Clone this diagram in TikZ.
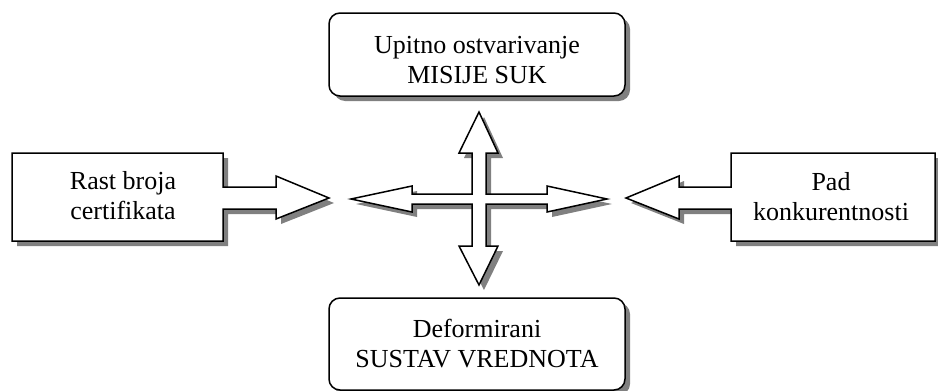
\documentclass[tikz,border=0pt]{standalone}
\usepackage{fontspec}
\setmainfont{Liberation Serif}
\usetikzlibrary{positioning,shadows}

\tikzset{
  shade/.style={general shadow={fill=black!50, shadow xshift=5pt, shadow yshift=-5pt}},
  outline/.style={draw=black, fill=white, line width=1.5pt, line join=miter, shade},
  roundbox/.style={outline, rounded corners=11pt, minimum width=296pt, inner sep=0pt},
  label/.style={align=center, font=\fontsize{26}{30}\selectfont}
}

\begin{document}
\begin{tikzpicture}[x=1pt, y=-1pt]
\useasboundingbox (0,0) rectangle (938,391);

% top and bottom boxes
\node (misija) [roundbox, minimum height=83pt] at (477,54.5) {};
\node (vrednote) [roundbox, minimum height=92pt] at (477,344) {};
\node (misijatxt) [label] at (477,60) {Upitno ostvarivanje\\MISIJE SUK};
\node (vrednotetxt) [label] at (477,344) {Deformirani\\SUSTAV VREDNOTA};

% left callout
\draw [outline] (12,153) -- (223,153) -- (223,187) -- (276,187) -- (276,176)
  -- (329,198) -- (276,219) -- (276,209) -- (223,209) -- (223,241) -- (12,241) -- cycle;
\node (rast) [label] at (123,196) {Rast broja\\certifikata};

% right callout
\draw [outline] (935,153) -- (731,153) -- (731,187) -- (679,187) -- (679,176)
  -- (626,198) -- (679,219) -- (679,209) -- (731,209) -- (731,241) -- (935,241) -- cycle;
\node (pad) [label] at (831,197) {Pad\\konkurentnosti};

% cross of arrows
\draw [outline] (479,112) -- (498,153) -- (486,153) -- (486,194) -- (547,194) -- (547,186)
  -- (607,199) -- (547,212) -- (547,204) -- (486,204) -- (486,246) -- (498,246)
  -- (479,285) -- (459,246) -- (472,246) -- (472,204) -- (412,204) -- (412,212)
  -- (351,199) -- (412,186) -- (412,194) -- (472,194) -- (472,153) -- (459,153) -- cycle;
\end{tikzpicture}
\end{document}
